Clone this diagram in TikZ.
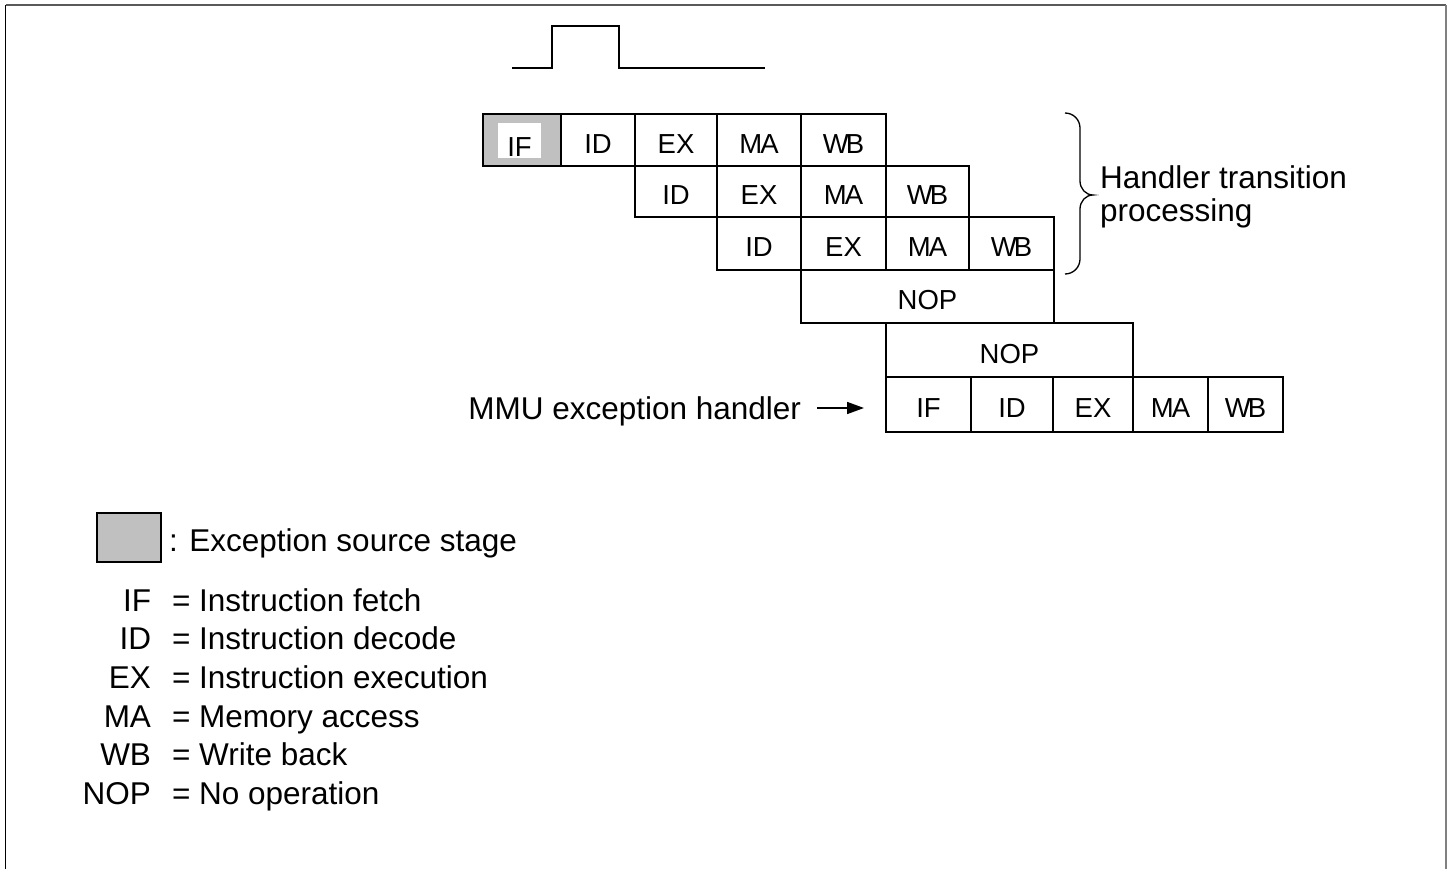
\documentclass[tikz,border=0pt]{standalone}
\usepackage{fontspec}
\setmainfont{Liberation Sans}
\usetikzlibrary{arrows.meta}
\newcommand\bigfont{\fontsize{31.5}{38}\selectfont}
\newcommand\cellfont{\fontsize{27.5}{32}\selectfont}
\newcommand\pcell[6]{\node[cell, minimum width={#4-#3}, minimum height={#6-#5}] (#1) at (#3,#5) {#2};}
\newcommand\cMA{M\kern-2ptA}
\newcommand\cWB{W\kern-3ptB}
\definecolor{exgray}{RGB}{192,192,192}
\begin{document}
\begin{tikzpicture}[x=1pt,y=-1pt,
  cell/.style={draw, line width=1.3pt, inner sep=0pt, outer sep=0pt, font=\cellfont,
    text height=26.7pt, text depth=0pt, anchor=north west},
  big/.style={font=\bigfont, inner sep=0pt, outer sep=0pt},
  wire/.style={line width=1.3pt},
  arr/.style={line width=1.6pt, -{Triangle[length=17pt,width=12pt]}}]
\useasboundingbox (0,0) rectangle (1451,869);
% frame
\draw[black, line width=1.5pt] (5.5,869) -- (5.5,5);
\draw[black!65, line width=1.5pt] (5.5,5) -- (1446,5);
\draw[black!50, line width=1.8pt] (1446,5) -- (1446,869);
% pulse
\draw[wire] (512,68) -- (552,68) -- (552,26) -- (619,26) -- (619,68) -- (765,68);
% row 1
\node[cell, fill=exgray, minimum width=78, minimum height=52] (r1if) at (483,114) {};
\node[fill=white, inner sep=0pt, minimum width=43, minimum height=35, font=\cellfont,
  text height=32.7pt, text depth=0pt] (r1ift) at (519.5,140.5) {IF};
\pcell{r1id}{ID}{561}{635}{114}{166}
\pcell{r1ex}{EX}{635}{717}{114}{166}
\pcell{r1ma}{\cMA}{717}{801}{114}{166}
\pcell{r1wb}{\cWB}{801}{886}{114}{166}
% row 2
\pcell{r2id}{ID}{635}{717}{166}{217}
\pcell{r2ex}{EX}{717}{801}{166}{217}
\pcell{r2ma}{\cMA}{801}{886}{166}{217}
\pcell{r2wb}{\cWB}{886}{969}{166}{217}
% row 3
\pcell{r3id}{ID}{717}{801}{217}{270}
\pcell{r3ex}{EX}{801}{886}{217}{270}
\pcell{r3ma}{\cMA}{886}{969}{217}{270}
\pcell{r3wb}{\cWB}{969}{1054}{217}{270}
% NOPs
\pcell{nop1}{NOP}{801}{1054}{270}{323}
\pcell{nop2}{NOP}{886}{1133}{323}{377}
% handler row
\pcell{lif}{IF}{886}{971}{377}{432}
\pcell{lid}{ID}{971}{1053}{377}{432}
\pcell{lex}{EX}{1053}{1133}{377}{432}
\pcell{lma}{\cMA}{1133}{1208}{377}{432}
\pcell{lwb}{\cWB}{1208}{1283}{377}{432}
% brace
\draw[line width=1.3pt] (1065,113) to[out=0,in=90] (1080,128) -- (1080,181)
  to[out=-90,in=180] (1093,195) to[out=180,in=90] (1080,209) -- (1080,259)
  to[out=-90,in=0] (1065,274);
\node[big, anchor=base west] (ht1) at (1100,189) {Handler transition};
\node[big, anchor=base west] (ht2) at (1100,222) {processing};
% MMU handler label and arrow
\node[big, anchor=base east] (mmu) at (801,419) {MMU exception handler};
\coordinate (arrowstart) at (817,408);
\draw[arr] (arrowstart) -- ([xshift=-22pt,yshift=-3.5pt]lif.west);
% legend
\node[draw, line width=1.3pt, fill=exgray, inner sep=0pt, outer sep=0pt, anchor=north west,
  minimum width=64, minimum height=49] (lgbox) at (97,513) {};
\node[big, anchor=base west] (lgtxt) at (169,551) {: Exception source stage};
\node[big, anchor=base east] (aif) at (151,611) {IF};
\node[big, anchor=base west] (dif) at (172,611) {= Instruction fetch};
\node[big, anchor=base east] (aid) at (151,649.5) {ID};
\node[big, anchor=base west] (did) at (172,649.5) {= Instruction decode};
\node[big, anchor=base east] (aex) at (151,688) {EX};
\node[big, anchor=base west] (dex) at (172,688) {= Instruction execution};
\node[big, anchor=base east] (ama) at (151,727) {MA};
\node[big, anchor=base west] (dma) at (172,727) {= Memory access};
\node[big, anchor=base east] (awb) at (151,765.5) {WB};
\node[big, anchor=base west] (dwb) at (172,765.5) {= Write back};
\node[big, anchor=base east] (anop) at (151,804) {NOP};
\node[big, anchor=base west] (dnop) at (172,804) {= No operation};
\end{tikzpicture}
\end{document}
